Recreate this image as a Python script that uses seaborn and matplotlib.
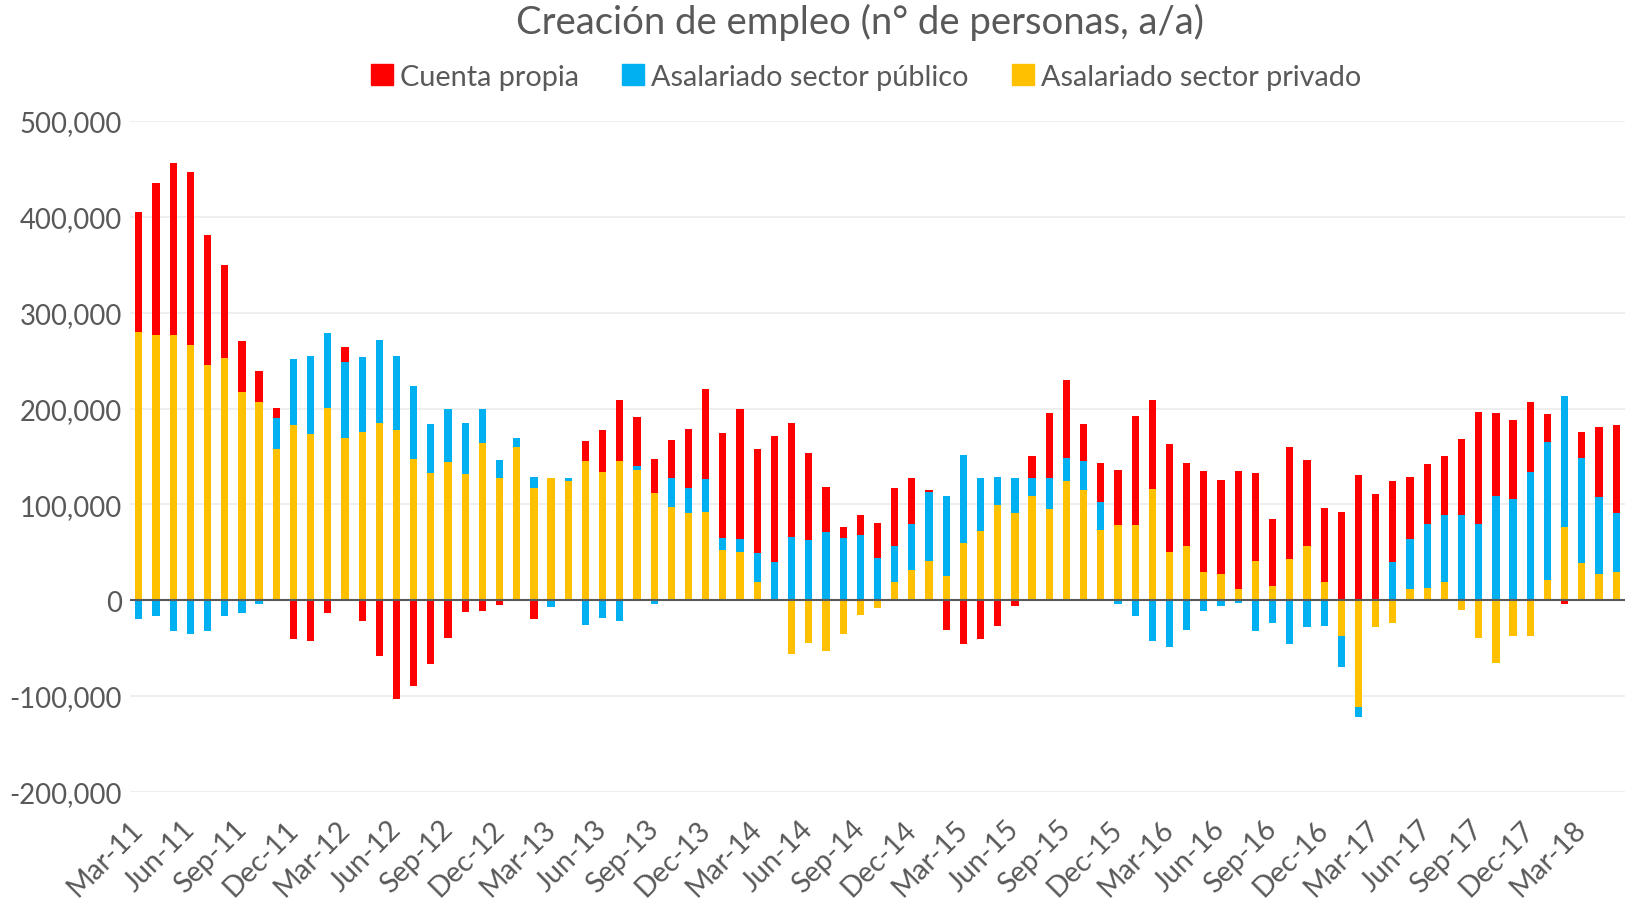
import numpy as np
import pandas as pd
import matplotlib.pyplot as plt
import matplotlib.transforms as mtransforms
from matplotlib.patches import Patch
from matplotlib.ticker import FuncFormatter
import seaborn as sns

# Meses (Mar-11 a May-18)
meses = list(pd.date_range('2011-03-01', periods=87, freq='MS').strftime('%b-%y'))

# Valores en miles de personas (variacion interanual)
privado = [280, 277, 277, 266, 245, 253, 217, 207, 158, 183, 173, 201, 169, 176, 185, 178,
           147, 133, 144, 132, 164, 127, 160, 117, 127, 124, 145, 134, 145, 136, 112, 97,
           91, 92, 52, 50, 19, 1, -56, -45, -53, -35, -15, -8, 19, 31, 41, 25,
           60, 72, 99, 91, 109, 95, 124, 115, 73, 78, 78, 116, 50, 57, 29, 27,
           12, 41, 15, 43, 57, 19, -37, -112, -28, -24, 12, 13, 19, -10, -40, -66,
           -37, -37, 21, 76, 39, 27, 29]
publico = [-20, -17, -32, -35, -32, -17, -13, -4, 32, 69, 82, 78, 80, 78, 86, 77,
           77, 51, 56, 53, 36, 19, 9, 12, -7, 3, -26, -19, -22, 4, -4, 30,
           26, 34, 13, 14, 30, 39, 66, 63, 71, 65, 68, 44, 38, 48, 72, 84,
           91, 56, 30, 36, 19, 32, 24, 30, 29, -4, -17, -43, -49, -31, -11, -6,
           -3, -32, -24, -46, -28, -27, -33, -10, 1, 40, 52, 66, 70, 89, 80, 109,
           106, 134, 144, 137, 109, 81, 62]
propia = [125, 158, 179, 181, 136, 97, 53, 32, 11, -41, -43, -13, 15, -22, -58, -103,
          -90, -67, -40, -12, -11, -5, -1, -20, 1, -1, 21, 44, 64, 51, 35, 40,
          62, 94, 109, 136, 109, 131, 119, 91, 47, 11, 21, 37, 60, 49, 2, -31,
          -46, -41, -27, -6, 22, 68, 82, 39, 41, 58, 114, 93, 113, 86, 106, 98,
          123, 92, 70, 117, 89, 77, 92, 131, 110, 84, 65, 63, 61, 79, 116, 86,
          82, 73, 29, -4, 27, 73, 92]

series = [
    ('Asalariado sector privado', privado, '#FFC000'),
    ('Asalariado sector público', publico, '#00B0F0'),
    ('Cuenta propia', propia, '#FF0000'),
]

gris = '#595959'

sns.set_style('white')
plt.rcParams['font.family'] = ['Lato', 'DejaVu Sans']

fig = plt.figure(figsize=(16.28, 9.04), dpi=100)
ax = fig.add_axes([0.080, 0.123, 0.918, 0.742])

# apilado con positivos y negativos por separado (como Excel)
pos = np.zeros(len(meses))
neg = np.zeros(len(meses))
for nombre, vals, color in series:
    v = np.array(vals, dtype=float) * 1000
    bottom = np.where(v >= 0, pos, neg)
    df = pd.DataFrame({'mes': meses, 'valor': v})
    sns.barplot(data=df, x='mes', y='valor', color=color, saturation=1, width=0.42,
                bottom=bottom, linewidth=0, errorbar=None, ax=ax)
    pos += np.where(v >= 0, v, 0)
    neg += np.where(v < 0, v, 0)

ax.set_xlim(-0.5, len(meses) - 0.5)
ax.set_ylim(-200000, 500000)
ax.set_yticks(range(-200000, 500001, 100000))
ax.yaxis.set_major_formatter(FuncFormatter(lambda v, p: f'{v:,.0f}'))
ax.yaxis.grid(True, color='#EDEDED', linewidth=1.3)
ax.set_axisbelow(True)
ax.axhline(0, color=gris, linewidth=1.5, zorder=5)

idx = list(range(0, len(meses), 3))
ax.set_xticks(idx)
ax.set_xticklabels([meses[i] for i in idx], rotation=45, ha='right', rotation_mode='anchor')
ax.tick_params(axis='x', length=0, pad=17, labelsize=20.5, labelcolor=gris)
ax.tick_params(axis='y', length=0, pad=6, labelsize=19.8, labelcolor=gris)
desplaza = mtransforms.ScaledTranslation(-0.09, 0, fig.dpi_scale_trans)
for lab in ax.get_xticklabels():
    lab.set_transform(lab.get_transform() + desplaza)
ax.set_xlabel('')
ax.set_ylabel('')
for s in ax.spines.values():
    s.set_visible(False)

fig.text(0.528, 0.975, 'Creación de empleo (n° de personas, a/a)', ha='center', va='center',
         fontsize=27.5, color=gris)

handles = [Patch(color='#FF0000', label='Cuenta propia'),
           Patch(color='#00B0F0', label='Asalariado sector público'),
           Patch(color='#FFC000', label='Asalariado sector privado')]
fig.legend(handles=handles, loc='center', bbox_to_anchor=(0.532, 0.914), ncol=3, frameon=False,
           fontsize=20.8, labelcolor=gris, handlelength=0.75, handleheight=0.75,
           handletextpad=0.25, columnspacing=1.5)

fig.savefig('out.png', dpi=100)
